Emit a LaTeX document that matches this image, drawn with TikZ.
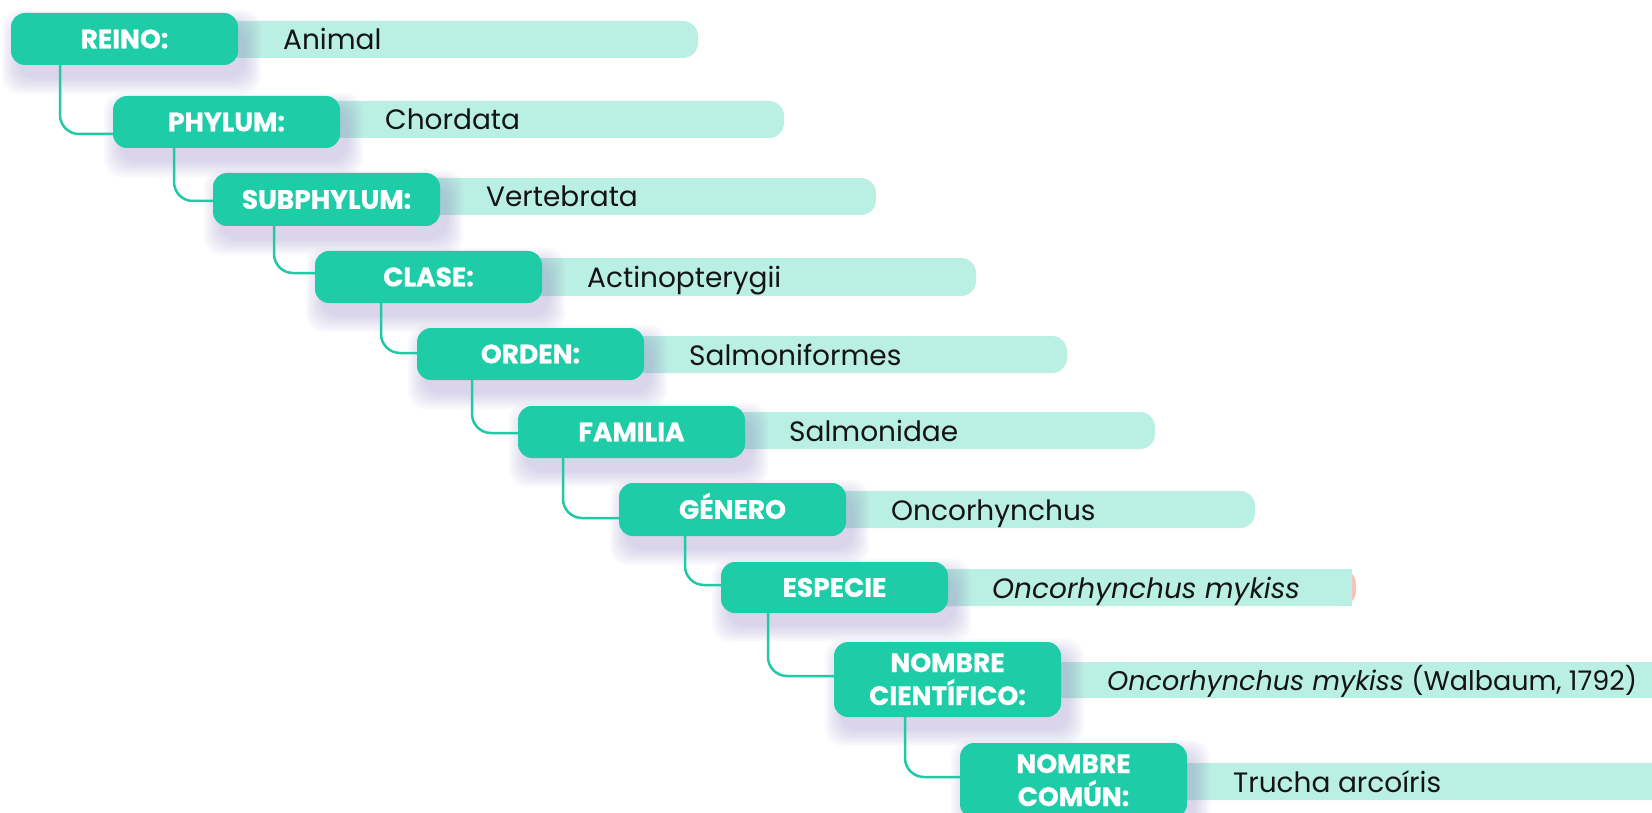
\documentclass[tikz,border=0pt]{standalone}
\usepackage{fontspec}
\usetikzlibrary{calc}
\newfontfamily\valfont{Poppins}
\newfontfamily\labfont{Poppins}[BoldFeatures={FakeBold=0.7}]
\definecolor{boxc}{RGB}{31,204,168}
\definecolor{barc}{RGB}{186,240,227}
\definecolor{linec}{RGB}{34,201,165}
\definecolor{shadowc}{RGB}{150,138,196}
\definecolor{pinkc}{RGB}{249,195,189}
\tikzset{
  taxbox/.style={fill=boxc, draw=none, rounded corners=14pt, minimum width=227pt, inner sep=0pt, outer sep=0pt},
  taxbar/.style={fill=barc, draw=none, rounded corners=15pt},
  conn/.style={draw=linec, line width=2.5pt, rounded corners=19pt},
  labtext/.style={anchor=base, inner sep=0pt, text=white, font={\labfont\bfseries\fontsize{26.5}{33}\selectfont}},
  valtext/.style={anchor=base west, inner sep=0pt, text=black!92, font={\valfont\fontsize{28}{34}\selectfont}},
}
% shadow: left top right bottom
\newcommand\softshadow[4]{%
  \foreach \k in {0,...,9}{%
    \fill[shadowc, opacity=0.045, rounded corners=18pt]
      ({#1+7-\k*1.8},{#2+13-\k*1.8}) rectangle ({#3+7+\k*1.8},{#4+13+\k*1.8});
  }%
}
% box node: name, left, top, bottom
\newcommand\levelbox[4]{%
  \softshadow{#2}{#3}{#2+227}{#4}%
  \node[taxbox, minimum height={#4-#3}] (#1) at ({#2+113.5},{(#3+#4)/2}) {};%
}
\begin{document}
\begin{tikzpicture}[x=1pt,y=-1pt]
\useasboundingbox (0,0) rectangle (1652,813);
% bars
\fill[taxbar] (120,21) rectangle (698,58);
\fill[taxbar] (220,101) rectangle (784,138);
\fill[taxbar] (320,178) rectangle (876,215);
\fill[taxbar] (420,258) rectangle (976,296);
\fill[taxbar] (520,336) rectangle (1067,373);
\fill[taxbar] (620,412) rectangle (1155,449);
\fill[taxbar] (720,491) rectangle (1255,528);
\fill[pinkc, rounded corners=15pt] (820,569) rectangle (1356,606);
\fill[barc] (820,569) rectangle (1352,606);
\fill[taxbar] (940,662) rectangle (1690,698);
\fill[taxbar] (1070,763) rectangle (1690,800);
% boxes
\levelbox{reino}{11}{13}{65}
\levelbox{phylum}{113}{96}{148}
\levelbox{subphylum}{213}{173}{226}
\levelbox{clase}{315}{251}{303}
\levelbox{orden}{417}{328}{380}
\levelbox{familia}{518}{406}{458}
\levelbox{genero}{619}{483}{536}
\levelbox{especie}{721}{562}{613}
\levelbox{nc}{834}{642}{717}
\levelbox{comun}{960}{743}{818}
% connectors
\draw[conn] ([xshift=49pt]reino.south west) |- ([yshift=-38pt]phylum.north west);
\draw[conn] ([xshift=61pt]phylum.south west) |- ([yshift=-28pt]subphylum.north west);
\draw[conn] ([xshift=61pt]subphylum.south west) |- ([yshift=-22pt]clase.north west);
\draw[conn] ([xshift=66pt]clase.south west) |- ([yshift=-25pt]orden.north west);
\draw[conn] ([xshift=55pt]orden.south west) |- ([yshift=-27pt]familia.north west);
\draw[conn] ([xshift=45pt]familia.south west) |- ([yshift=-35pt]genero.north west);
\draw[conn] ([xshift=66pt]genero.south west) |- ([yshift=-23pt]especie.north west);
\draw[conn] ([xshift=47pt]especie.south west) |- ([yshift=-34pt]nc.north west);
\draw[conn] ([xshift=71pt]nc.south west) |- ([yshift=-34pt]comun.north west);
% labels
\node[labtext] (reino-t) at (124.5,48.3) {REINO:};
\node[labtext] (phylum-t) at (226.5,131.3) {PHYLUM:};
\node[labtext] (subphylum-t) at (326.5,208.8) {SUBPHYLUM:};
\node[labtext] (clase-t) at (428.5,286.3) {CLASE:};
\node[labtext] (orden-t) at (530.5,363.3) {ORDEN:};
\node[labtext] (familia-t) at (631.5,441.3) {FAMILIA};
\node[labtext] (genero-t) at (732.5,518.8) {GÉNERO};
\node[labtext] (especie-t) at (834.5,596.8) {ESPECIE};
\node[labtext] (nc-t1) at (947.5,672) {NOMBRE};
\node[labtext] (nc-t2) at (947.5,705) {CIENTÍFICO:};
\node[labtext] (comun-t1) at (1073.5,773) {NOMBRE};
\node[labtext] (comun-t2) at (1073.5,806) {COMÚN:};
% values
\node[valtext] (reino-v) at (283,50) {Animal};
\node[valtext] (phylum-v) at (385,130) {Chordata};
\node[valtext] (subphylum-v) at (486,207) {Vertebrata};
\node[valtext] (clase-v) at (587,287.5) {Actinopterygii};
\node[valtext] (orden-v) at (689,365) {Salmoniformes};
\node[valtext] (familia-v) at (789,441) {Salmonidae};
\node[valtext] (genero-v) at (891,520) {Oncorhynchus};
\node[valtext] (especie-v) at (992,598) {\textit{Oncorhynchus mykiss}};
\node[valtext, font={\valfont\fontsize{27}{33}\selectfont}] (nc-v) at (1107,690.5) {\textit{Oncorhynchus mykiss} (Walbaum, 1792)};
\node[valtext] (comun-v) at (1233,792) {Trucha arcoíris};
\end{tikzpicture}
\end{document}
